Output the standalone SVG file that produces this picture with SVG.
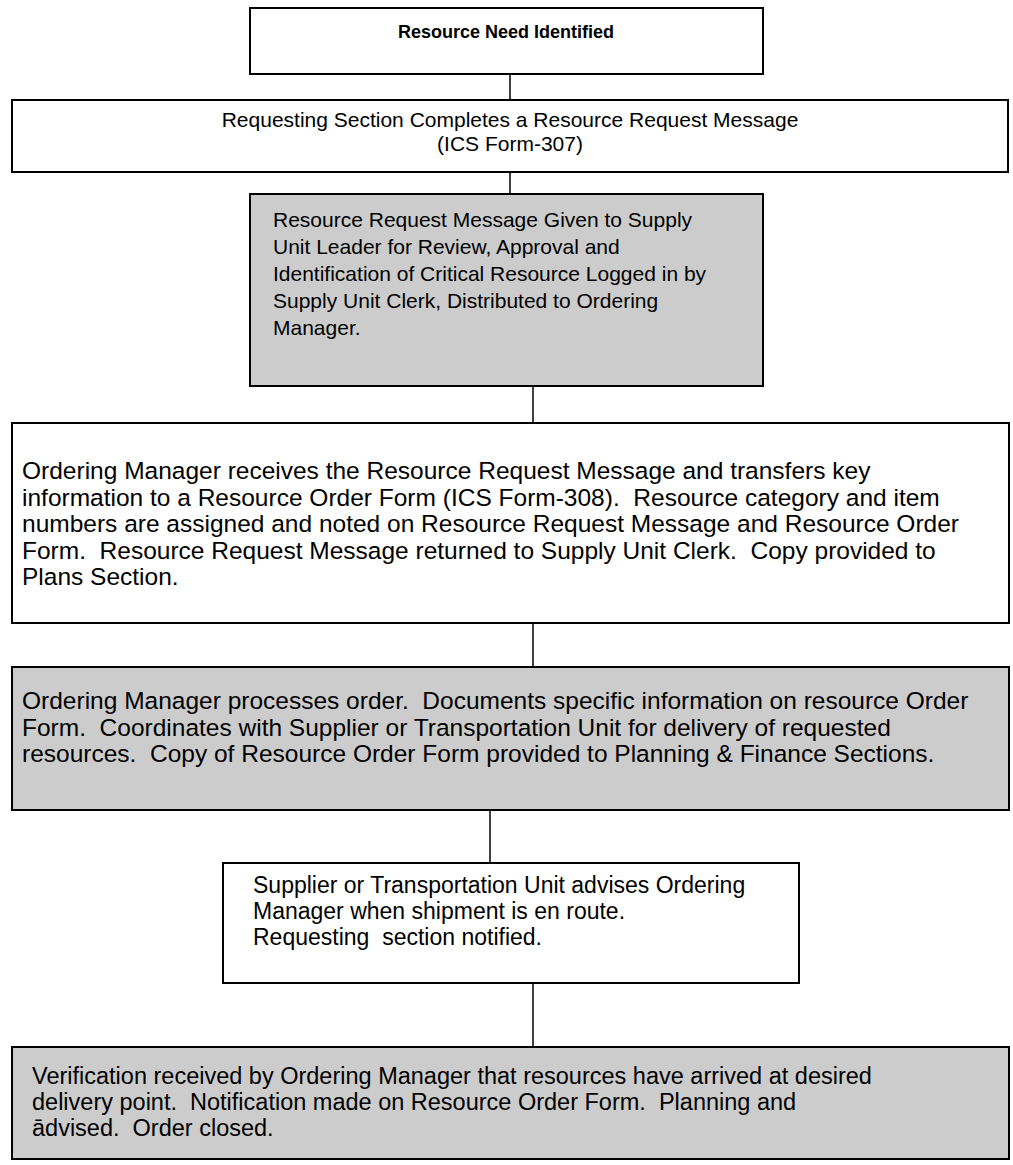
<svg xmlns="http://www.w3.org/2000/svg" width="1013" height="1165" viewBox="0 0 1013 1165">
  <style>
    .box { stroke: #000; stroke-width: 2; }
    .white { fill: #fff; }
    .grey { fill: #cccccc; }
    .txt { font-family: "Liberation Sans", Arial, sans-serif; fill: #000; }
    .title { font-size: 18px; font-weight: bold; }
    .f21 { font-size: 21px; }
    .f23 { font-size: 23px; }
    .f235 { font-size: 23.5px; }
    .f24 { font-size: 24.5px; }
    .link { stroke: #000; stroke-width: 1.5; fill: none; }
  </style>
  <rect width="1013" height="1165" fill="#fff"/>

  <!-- vertical joins between consecutive steps -->
  <g id="connectors">
    <line class="link" x1="510" y1="74" x2="510" y2="100"/>
    <line class="link" x1="510" y1="172" x2="510" y2="194"/>
    <line class="link" x1="533" y1="386" x2="533" y2="423"/>
    <line class="link" x1="533" y1="623" x2="533" y2="667"/>
    <line class="link" x1="490" y1="810" x2="490" y2="863"/>
    <line class="link" x1="533" y1="983" x2="533" y2="1047"/>
  </g>

  <g id="need-identified">
    <rect class="box white" x="250" y="8" width="513" height="66"/>
    <text class="txt title" x="506" y="38" text-anchor="middle">Resource Need Identified</text>
  </g>

  <g id="request-message">
    <rect class="box white" x="12" y="100" width="996" height="72"/>
    <text class="txt f21" x="510" y="126.5" text-anchor="middle">Requesting Section Completes a Resource Request Message</text>
    <text class="txt f21" x="510" y="150.5" text-anchor="middle">(ICS Form-307)</text>
  </g>

  <g id="supply-review">
    <rect class="box grey" x="250" y="194" width="513" height="192"/>
    <text class="txt f21" x="273" y="227">Resource Request Message Given to Supply</text>
    <text class="txt f21" x="273" y="254">Unit Leader for Review, Approval and</text>
    <text class="txt f21" x="273" y="281">Identification of Critical Resource Logged in by</text>
    <text class="txt f21" x="273" y="308">Supply Unit Clerk, Distributed to Ordering</text>
    <text class="txt f21" x="273" y="335">Manager.</text>
  </g>

  <g id="order-form">
    <rect class="box white" x="12" y="423" width="997" height="200"/>
    <text class="txt f24" x="22" y="479">Ordering Manager receives the Resource Request Message and transfers key</text>
    <text class="txt f24" x="22" y="505.5" xml:space="preserve">information to a Resource Order Form (ICS Form-308).  Resource category and item</text>
    <text class="txt f24" x="22" y="532">numbers are assigned and noted on Resource Request Message and Resource Order</text>
    <text class="txt f24" x="22" y="558.5" xml:space="preserve">Form.  Resource Request Message returned to Supply Unit Clerk.  Copy provided to</text>
    <text class="txt f24" x="22" y="585">Plans Section.</text>
  </g>

  <g id="process-order">
    <rect class="box grey" x="12" y="667" width="997" height="143"/>
    <text class="txt f24" x="22" y="709" xml:space="preserve">Ordering Manager processes order.  Documents specific information on resource Order</text>
    <text class="txt f24" x="22" y="735.5" xml:space="preserve">Form.  Coordinates with Supplier or Transportation Unit for delivery of requested</text>
    <text class="txt f24" x="22" y="762" xml:space="preserve">resources.  Copy of Resource Order Form provided to Planning &amp; Finance Sections.</text>
  </g>

  <g id="shipment-en-route">
    <rect class="box white" x="223" y="863" width="576" height="120"/>
    <text class="txt f23" x="253" y="893">Supplier or Transportation Unit advises Ordering</text>
    <text class="txt f23" x="253" y="919">Manager when shipment is en route.</text>
    <text class="txt f23" x="253" y="945" xml:space="preserve">Requesting  section notified.</text>
  </g>

  <g id="order-closed">
    <rect class="box grey" x="12" y="1047" width="997" height="112"/>
    <text class="txt f235" x="32" y="1084">Verification received by Ordering Manager that resources have arrived at desired</text>
    <text class="txt f235" x="32" y="1110" xml:space="preserve">delivery point.  Notification made on Resource Order Form.  Planning and</text>
    <text class="txt f235" x="32" y="1136" xml:space="preserve">ādvised.  Order closed.</text>
  </g>
</svg>
